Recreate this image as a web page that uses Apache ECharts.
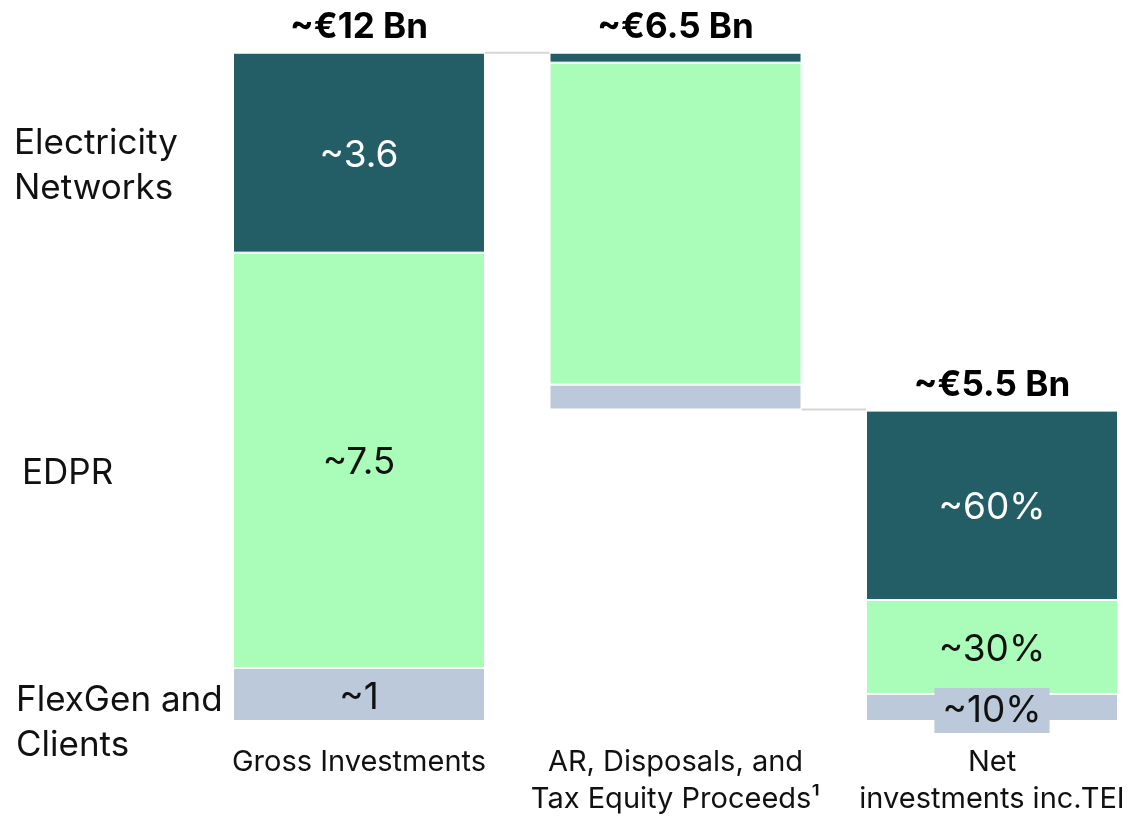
<!DOCTYPE html>
<html>
<head>
<meta charset="utf-8">
<script src="https://cdn.jsdelivr.net/npm/echarts@6/dist/echarts.min.js"></script>
<style>
  html, body { margin: 0; padding: 0; background: #fff; }
  #main { width: 1135px; height: 818px; }
</style>
</head>
<body>
<div id="main"></div>
<script>
// categories and values (EUR Bn)
var categories = ['Gross Investments', 'AR, Disposals, and\nTax Equity Proceeds\u00b9', 'Net\ninvestments inc.TEI'];
var baseValues = [0, 5.64, 0];
var flexGenValues = [0.96, 0.45, 0.49];
var edprValues = [7.52, 5.83, 1.70];
var networksValues = [3.62, 0.18, 3.43];
var flexGenLabels = ['~1', '', '~10%'];
var edprLabels = ['~7.5', '', '~30%'];
var networksLabels = ['~3.6', '', '~60%'];
var totalLabels = ['~\u20ac12 Bn', '~\u20ac6.5 Bn', '~\u20ac5.5 Bn'];
var rowLabels = ['Electricity\nNetworks', 'EDPR', 'FlexGen and\nClients'];

var FONT = 'Inter';
var DARK = '#235E66';
var GREEN = '#AAFDB9';
var GREY = '#BCC9DA';
var BAR_W = 252;

var tops = [];
for (var i = 0; i < categories.length; i++) {
  tops.push(baseValues[i] + flexGenValues[i] + edprValues[i] + networksValues[i]);
}
// connectors: [from index, to index, level]
var connectors = [
  [0, 1, tops[0]],
  [1, 2, baseValues[1]]
];

function segData(values, labels, extra) {
  return values.map(function (v, i) {
    var item = { value: v, labelText: labels[i] };
    if (extra && extra[i]) item.label = extra[i];
    return item;
  });
}

var myChart = echarts.init(document.getElementById('main'));

var labelStyle = function (color) {
  return {
    show: true,
    position: 'inside',
    offset: [0, 3],
    fontFamily: FONT,
    fontSize: 37,
    color: color,
    formatter: function (p) { return p.data.labelText; }
  };
};

var option = {
  animation: false,
  grid: { left: 359, right: 143, top: 3, bottom: 96, containLabel: false },
  xAxis: {
    type: 'category',
    data: categories,
    boundaryGap: false,
    axisLine: { show: false },
    axisTick: { show: false },
    axisLabel: {
      interval: 0,
      fontFamily: FONT,
      fontSize: 29,
      color: '#111',
      lineHeight: 37,
      margin: 23
    }
  },
  yAxis: {
    type: 'value',
    min: 0,
    max: 13,
    show: false
  },
  series: [
    {
      type: 'bar', stack: 'a', barWidth: BAR_W, silent: true, clip: false,
      itemStyle: { color: 'transparent' },
      data: baseValues
    },
    {
      name: 'FlexGen and Clients', type: 'bar', stack: 'a', barWidth: BAR_W, clip: false,
      itemStyle: { color: GREY, borderColor: '#fff', borderWidth: 1 },
      label: labelStyle('#111'),
      data: segData(flexGenValues, flexGenLabels, [null, null, {
        backgroundColor: GREY, padding: [4, 8]
      }])
    },
    {
      name: 'EDPR', type: 'bar', stack: 'a', barWidth: BAR_W, clip: false,
      itemStyle: { color: GREEN, borderColor: '#fff', borderWidth: 1 },
      label: labelStyle('#111'),
      data: segData(edprValues, edprLabels)
    },
    {
      name: 'Electricity Networks', type: 'bar', stack: 'a', barWidth: BAR_W, clip: false,
      itemStyle: { color: DARK, borderColor: '#fff', borderWidth: 1 },
      label: labelStyle('#fff'),
      data: segData(networksValues, networksLabels)
    },
    {
      // totals above bars
      type: 'scatter', symbolSize: 0, silent: true, clip: false,
      itemStyle: { opacity: 1 },
      label: {
        show: true,
        position: 'top',
        distance: 8,
        fontFamily: FONT,
        fontSize: 35,
        fontWeight: 'bold',
        color: '#000',
        formatter: function (p) { return totalLabels[p.dataIndex]; }
      },
      data: tops.map(function (t, i) { return [i, t]; })
    },
    {
      // connector lines between bars
      type: 'custom', silent: true, clip: false,
      renderItem: function (params, api) {
        var p0 = api.coord([api.value(0), api.value(2)]);
        var p1 = api.coord([api.value(1), api.value(2)]);
        return {
          type: 'line',
          shape: { x1: p0[0] + BAR_W / 2, y1: p0[1], x2: p1[0] - BAR_W / 2, y2: p1[1] },
          style: { stroke: '#D6D6D6', lineWidth: 2 }
        };
      },
      data: connectors
    }
  ],
  graphic: [
    { type: 'text', left: 14, top: 121, style: { text: rowLabels[0], font: '35px Inter', fill: '#111', lineHeight: 45 } },
    { type: 'text', left: 22, top: 451, style: { text: rowLabels[1], font: '35px Inter', fill: '#111', lineHeight: 45 } },
    { type: 'text', left: 16, top: 678, style: { text: rowLabels[2], font: '35px Inter', fill: '#111', lineHeight: 45 } }
  ]
};
myChart.setOption(option);
</script>
</body>
</html>
